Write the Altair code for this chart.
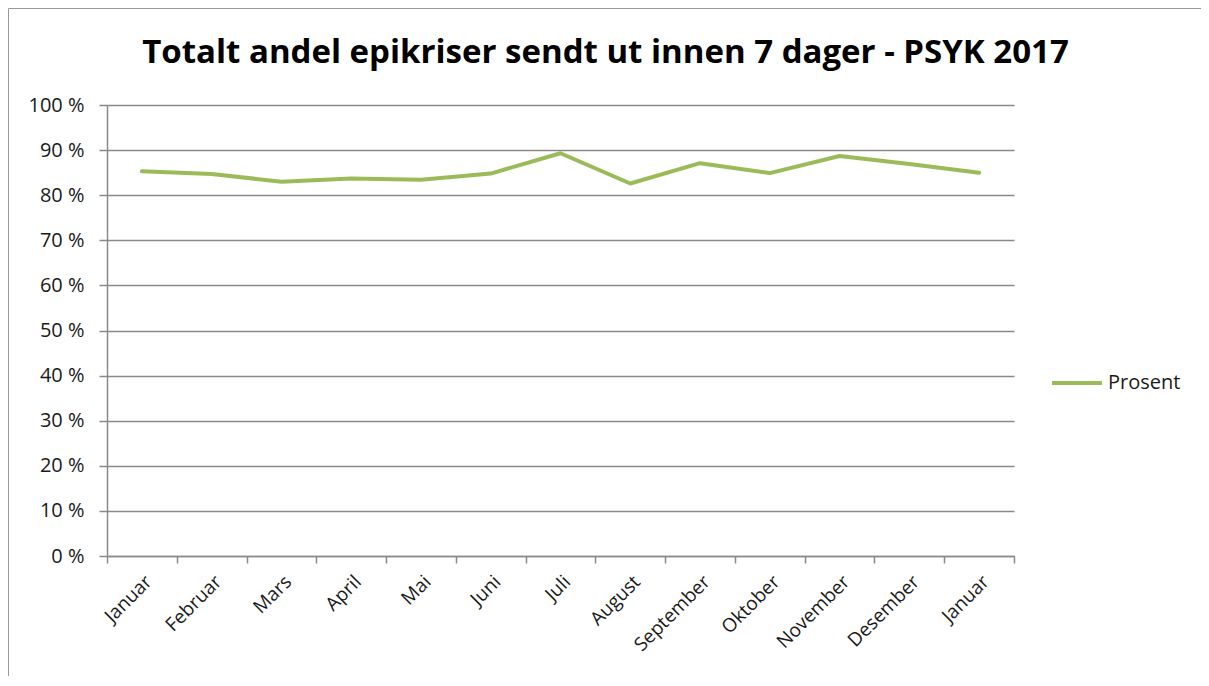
import altair as alt
import pandas as pd

# ---- data ----
months = ["Januar", "Februar", "Mars", "April", "Mai", "Juni", "Juli",
          "August", "September", "Oktober", "November", "Desember", "Januar"]
prosent = [85.3, 84.7, 83.0, 83.7, 83.4, 84.8, 89.3, 82.6, 87.1, 84.9, 88.7, 86.9, 85.0]
y_ticks = [0, 10, 20, 30, 40, 50, 60, 70, 80, 90, 100]
series_name = "Prosent"
title_text = "Totalt andel epikriser sendt ut innen 7 dager - PSYK 2017"

df = pd.DataFrame({
    "i": list(range(len(months))),
    "month": months,
    "value": prosent,
    "serie": [series_name] * len(months),
})

label_expr = "[" + ",".join("'" + m + "'" for m in months) + "][datum.value]"

FONT = "Open Sans"
AXIS_GRAY = "#8a8a8a"
TEXT = "#1a1a1a"

line = (
    alt.Chart(df)
    .mark_line(strokeWidth=4, strokeJoin="round", strokeCap="round")
    .encode(
        x=alt.X(
            "i:O",
            bandPosition=0.5,
            scale=alt.Scale(type="band", paddingInner=0, paddingOuter=0),
            axis=alt.Axis(
                title=None,
                labelExpr=label_expr,
                labelAngle=-45,
                labelAlign="right",
                labelBaseline="top",
                labelFontSize=19,
                labelFont=FONT,
                labelColor=TEXT,
                labelPadding=9,
                tickBand="extent",
                tickSize=7,
                tickColor=AXIS_GRAY,
                tickWidth=1.5,
                domainColor=AXIS_GRAY,
                domainWidth=1.5,
                grid=False,
            ),
        ),
        y=alt.Y(
            "value:Q",
            scale=alt.Scale(domain=[0, 100]),
            axis=alt.Axis(
                title=None,
                values=y_ticks,
                labelExpr="datum.value + ' %'",
                labelFontSize=20,
                labelFont=FONT,
                labelColor=TEXT,
                labelPadding=15,
                tickSize=8,
                tickColor=AXIS_GRAY,
                tickWidth=1.5,
                domainColor=AXIS_GRAY,
                domainWidth=1.5,
                grid=True,
                gridColor=AXIS_GRAY,
                gridWidth=1.5,
            ),
        ),
        color=alt.Color(
            "serie:N",
            scale=alt.Scale(domain=[series_name], range=["#9BBB59"]),
            legend=alt.Legend(
                title=None,
                orient="none",
                legendX=943,
                legendY=251,
                symbolType="stroke",
                symbolSize=2500,
                symbolStrokeWidth=4,
                labelFontSize=20,
                labelFont=FONT,
                labelColor=TEXT,
                labelOffset=4,
            ),
        ),
    )
)

# thin outer chart-area frame (decoration only)
frame = (
    alt.Chart(pd.DataFrame({"f": [0]}))
    .mark_rect(fill="transparent", stroke="#9a9a9a", strokeWidth=1)
    .encode(
        x=alt.value(-98.5),
        x2=alt.value(1096),
        y=alt.value(-96.5),
        y2=alt.value(640),
    )
)

chart = (
    alt.layer(frame, line)
    .properties(
        width=907,
        height=451,
        title=alt.Title(
            title_text,
            fontSize=33,
            font=FONT,
            fontWeight="bold",
            color="black",
            anchor="middle",
            dx=45,
            baseline="alphabetic",
            offset=-88,
        ),
        autosize=alt.AutoSizeParams(type="none"),
        padding={"left": 99, "top": 97, "right": 187, "bottom": 120},
        background="white",
    )
    .configure_view(strokeWidth=0)
)

chart.save("out.html", embed_options={"renderer": "svg", "actions": False})
